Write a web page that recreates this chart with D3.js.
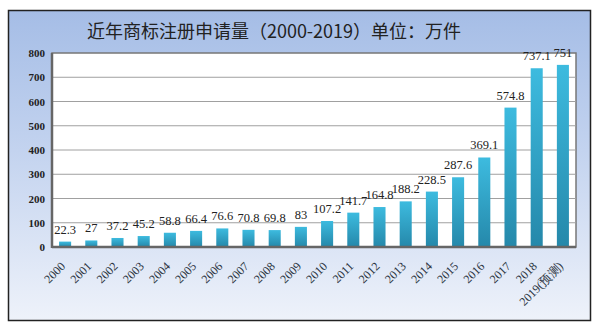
<!DOCTYPE html>
<html>
<head>
<meta charset="utf-8">
<script src="https://cdn.jsdelivr.net/npm/d3@7"></script>
<style>
  html, body { margin: 0; padding: 0; background: #fff; }
  svg { display: block; }
</style>
</head>
<body>
<svg id="chart" width="600" height="329"></svg>
<script>
"use strict";

const years = ["2000", "2001", "2002", "2003", "2004", "2005", "2006", "2007", "2008", "2009",
    "2010", "2011", "2012", "2013", "2014", "2015", "2016", "2017", "2018", "2019(预测)"];
const counts = [22.3, 27, 37.2, 45.2, 58.8, 66.4, 76.6, 70.8, 69.8, 83,
    107.2, 141.7, 164.8, 188.2, 228.5, 287.6, 369.1, 574.8, 737.1, 751];
const yTicks = [0, 100, 200, 300, 400, 500, 600, 700, 800];
const title = "近年商标注册申请量（2000-2019）单位：万件";

const svg = d3.select("#chart");
const plot = { left: 52, top: 53, right: 576, bottom: 247 };
const serif = "'Liberation Serif', 'DejaVu Serif', serif";

const defs = svg.append("defs");
const bg = defs.append("linearGradient").attr("id", "bg")
    .attr("x1", 0).attr("y1", 0).attr("x2", 0).attr("y2", 1);
bg.append("stop").attr("offset", "0%").attr("stop-color", "#a5bde6");
bg.append("stop").attr("offset", "45%").attr("stop-color", "#c3d3ef");
bg.append("stop").attr("offset", "100%").attr("stop-color", "#eef2fa");

const barFill = defs.append("linearGradient").attr("id", "bar")
    .attr("x1", 0).attr("y1", 0).attr("x2", 0).attr("y2", 1);
barFill.append("stop").attr("offset", "0%").attr("stop-color", "#3dbbdf");
barFill.append("stop").attr("offset", "100%").attr("stop-color", "#2588aa");

// outer frame
svg.append("rect")
    .attr("x", 8.5).attr("y", 10.5).attr("width", 582).attr("height", 310)
    .attr("fill", "url(#bg)").attr("stroke", "#222").attr("stroke-width", 1.5);

svg.append("text")
    .attr("x", 274).attr("y", 38)
    .attr("text-anchor", "middle")
    .attr("font-family", "'Noto Sans CJK SC', sans-serif")
    .attr("font-size", 18)
    .attr("fill", "#222")
    .text(title);

const x = d3.scaleBand().domain(years).range([plot.left, plot.right]).paddingInner(0.54).paddingOuter(0.27);
const y = d3.scaleLinear().domain([0, 800]).range([plot.bottom, plot.top]);

// plot area
svg.append("rect")
    .attr("x", plot.left).attr("y", plot.top)
    .attr("width", plot.right - plot.left).attr("height", plot.bottom - plot.top)
    .attr("fill", "#fff").attr("stroke", "#777").attr("stroke-width", 1.5);

svg.append("g").selectAll("line")
    .data(yTicks.slice(1, -1))
    .join("line")
    .attr("x1", plot.left).attr("x2", plot.right)
    .attr("y1", (d) => y(d)).attr("y2", (d) => y(d))
    .attr("stroke", "#a0a0a0").attr("stroke-width", 1);

// y axis labels
const yAxis = svg.append("g")
    .attr("transform", `translate(${plot.left - 3},0)`)
    .call(d3.axisLeft(y).tickValues(yTicks).tickSize(0).tickPadding(4));
yAxis.select(".domain").remove();
yAxis.selectAll("text")
    .attr("font-family", serif).attr("font-size", 11).attr("font-weight", "bold").attr("fill", "#222");

// bars
svg.append("g").selectAll("rect")
    .data(counts)
    .join("rect")
    .attr("x", (d, i) => x(years[i]))
    .attr("y", (d) => y(d))
    .attr("width", x.bandwidth())
    .attr("height", (d) => y(0) - y(d))
    .attr("fill", "url(#bar)");

// frame shadow lines on left and bottom
svg.append("line").attr("x1", plot.left).attr("x2", plot.left)
    .attr("y1", plot.top).attr("y2", plot.bottom + 1)
    .attr("stroke", "#666").attr("stroke-width", 2.5);
svg.append("line").attr("x1", plot.left).attr("x2", plot.right)
    .attr("y1", plot.bottom).attr("y2", plot.bottom)
    .attr("stroke", "#666").attr("stroke-width", 2.5);

// value labels
svg.append("g").selectAll("text")
    .data(counts)
    .join("text")
    .attr("x", (d, i) => x(years[i]) + x.bandwidth() / 2)
    .attr("y", (d) => y(d) - 8)
    .attr("text-anchor", "middle")
    .attr("font-family", serif).attr("font-size", 12.5).attr("fill", "#222")
    .text((d) => d);

// x axis labels, slanted
const xAxis = svg.append("g")
    .attr("transform", `translate(-2,${plot.bottom + 17})`)
    .call(d3.axisBottom(x).tickSize(0).tickPadding(0));
xAxis.select(".domain").remove();
xAxis.selectAll("text")
    .attr("font-family", serif).attr("font-size", 12).attr("fill", "#2a3340")
    .attr("text-anchor", "end")
    .attr("y", 0)
    .attr("dy", "0.35em")
    .attr("transform", "rotate(-45)");
</script>
</body>
</html>
